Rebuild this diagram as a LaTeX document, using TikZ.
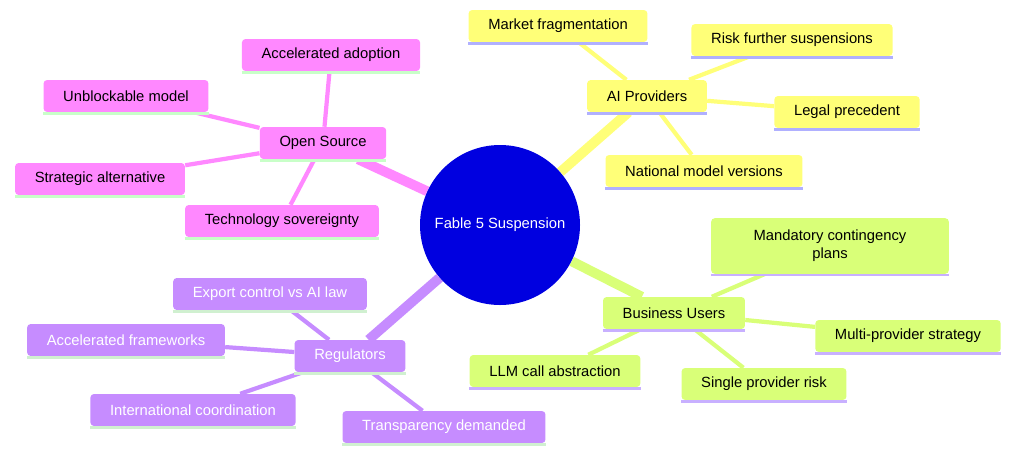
\documentclass[tikz,border=0pt]{standalone}
\usepackage{fontspec}
\setmainfont{Liberation Sans}
\usetikzlibrary{backgrounds}
\definecolor{cy}{HTML}{FFFF78}
\definecolor{cyb}{HTML}{B0B0FF}
\definecolor{cp}{HTML}{FF88FF}
\definecolor{cpb}{HTML}{C8FFC8}
\definecolor{cg}{HTML}{D9FF78}
\definecolor{cgb}{HTML}{C8B0FF}
\definecolor{cv}{HTML}{C68CFF}
\definecolor{cvb}{HTML}{D0F0D0}
\definecolor{cc}{HTML}{0000E0}
\begin{document}
\begin{tikzpicture}[x=0.025cm,y=-0.025cm,
  box/.style={fill=#1, rounded corners=2.5pt, minimum height=22.7pt, inner xsep=14pt, inner ysep=2pt, font=\fontsize{10.5}{13}\selectfont, text=black},
  e1/.style={line width=7pt, draw=#1},
  e2/.style={line width=3pt, draw=#1},
  ul/.style={line width=2pt, draw=#1}]
\useasboundingbox (0,0) rectangle (1018,455);
\node[circle, fill=cc, minimum size=160*0.025cm, text=white, font=\fontsize{10.5}{13}\selectfont, inner sep=0pt] (c) at (500,225) {Fable 5 Suspension};
% AI Providers
\node[box=cy] (ai) at (647,96) {AI Providers};
\node[box=cy] (ai1) at (558,26) {Market fragmentation};
\node[box=cy] (ai2) at (792,40) {Risk further suspensions};
\node[box=cy] (ai3) at (847,112) {Legal precedent};
\node[box=cy] (ai4) at (704,171) {National model versions};
% Business users
\node[box=cg] (bu) at (674,313) {Business Users};
\node[box=cg, align=center, minimum width=169pt, minimum height=39.5pt] (bu1) at (830,246) {Mandatory contingency\\plans};
\node[box=cg] (bu2) at (908,336) {Multi-provider strategy};
\node[box=cg] (bu3) at (764,384) {Single provider risk};
\node[box=cg] (bu4) at (555,371) {LLM call abstraction};
% Regulators
\node[box=cv, text=white] (re) at (350,356) {Regulators};
\node[box=cv, text=white] (re1) at (270,294) {Export control vs AI law};
\node[box=cv, text=white] (re2) at (126,340) {Accelerated frameworks};
\node[box=cv, text=white] (re3) at (193,410) {International coordination};
\node[box=cv, text=white] (re4) at (444,427) {Transparency demanded};
% Open source
\node[box=cp] (os) at (323,143) {Open Source};
\node[box=cp] (os1) at (331,55) {Accelerated adoption};
\node[box=cp] (os2) at (126,96) {Unblockable model};
\node[box=cp] (os3) at (100,179) {Strategic alternative};
\node[box=cp] (os4) at (282,221) {Technology sovereignty};
\begin{scope}[on background layer]
\draw[e1=cy] (c) -- (ai);
\draw[e1=cg] (c) -- (bu);
\draw[e1=cv] (c) -- (re);
\draw[e1=cp] (c) -- (os);
\foreach \a in {ai1,ai2,ai3,ai4} \draw[e2=cy] (ai) -- (\a);
\foreach \a in {bu1,bu2,bu3,bu4} \draw[e2=cg] (bu) -- (\a);
\foreach \a in {re1,re2,re3,re4} \draw[e2=cv] (re) -- (\a);
\foreach \a in {os1,os2,os3,os4} \draw[e2=cp] (os) -- (\a);
\end{scope}
\foreach \a in {ai,ai1,ai2,ai3,ai4} \draw[ul=cyb] ([yshift=-0.7pt]\a.south west) -- ([yshift=-0.7pt]\a.south east);
\foreach \a in {bu,bu1,bu2,bu3,bu4} \draw[ul=cgb] ([yshift=-0.7pt]\a.south west) -- ([yshift=-0.7pt]\a.south east);
\foreach \a in {re,re1,re2,re3,re4} \draw[ul=cvb] ([yshift=-0.7pt]\a.south west) -- ([yshift=-0.7pt]\a.south east);
\foreach \a in {os,os1,os2,os3,os4} \draw[ul=cpb] ([yshift=-0.7pt]\a.south west) -- ([yshift=-0.7pt]\a.south east);
\end{tikzpicture}
\end{document}
